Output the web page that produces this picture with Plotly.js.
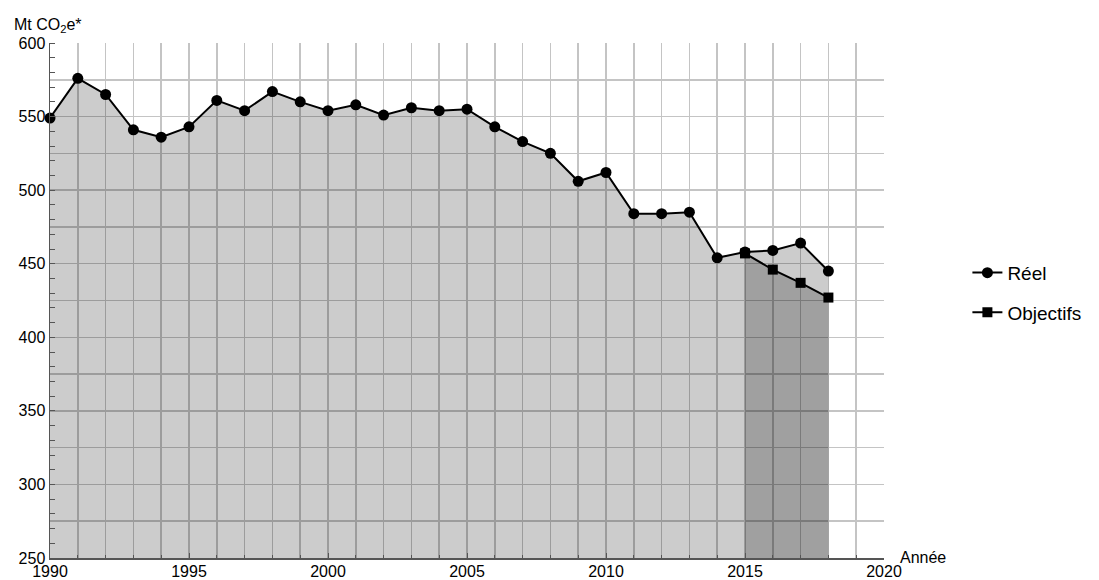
<!DOCTYPE html>
<html><head><meta charset="utf-8">
<script src="https://cdn.plot.ly/plotly-3.0.1.min.js"></script>
<style>html,body{margin:0;padding:0;background:#fff}</style>
</head><body><div id="chart" style="width:1099px;height:580px"></div>
<script>
const years = [1990,1991,1992,1993,1994,1995,1996,1997,1998,1999,2000,2001,2002,2003,2004,2005,2006,2007,2008,2009,2010,2011,2012,2013,2014,2015,2016,2017,2018];
const reel = [549,576,565,541,536,543,561,554,567,560,554,558,551,556,554,555,543,533,525,506,512,484,484,485,454,458,459,464,445];
const objYears = [2015,2016,2017,2018];
const objectifs = [457,446,437,427];
const yGridVals = [250,275,300,325,350,375,400,425,450,475,500,525,550,575,600];
const yTickText = ['250','','300','','350','','400','','450','','500','','550','','600'];
const xTickVals = [1990,1995,2000,2005,2010,2015,2020];
const seriesNames = ['Réel','Objectifs'];

const font = {family:'"Liberation Sans", Arial, sans-serif', size:16, color:'#000'};
const gridColor = '#c4c4c4';
const axisColor = '#555';

const traces = [
  {x: years, y: reel, type:'scatter', mode:'none', fill:'tozeroy', fillcolor:'rgba(0,0,0,0.2)', showlegend:false, hoverinfo:'skip'},
  {x: objYears, y: objectifs, type:'scatter', mode:'none', fill:'tozeroy', fillcolor:'rgba(0,0,0,0.215)', showlegend:false, hoverinfo:'skip'},
  {x: years, y: reel, name: seriesNames[0], type:'scatter', mode:'lines+markers', legendgroup:'a',
   line:{color:'#000', width:2}, marker:{symbol:'circle', size:11, color:'#000'}, cliponaxis:false},
  {x: objYears, y: objectifs, name: seriesNames[1], type:'scatter', mode:'lines+markers', legendgroup:'b',
   line:{color:'#000', width:2}, marker:{symbol:'square', size:10, color:'#000'}, cliponaxis:false}
];

const layout = {
  width:1099, height:580,
  margin:{l:50, r:215, t:43, b:22},
  paper_bgcolor:'#fff', plot_bgcolor:'#fff',
  font: font,
  showlegend:true,
  legend:{x:1.1, xanchor:'left', y:0.515, yanchor:'middle', font:{family:font.family, size:19, color:'#000'},
          tracegroupgap:12, bgcolor:'rgba(0,0,0,0)'},
  xaxis:{range:[1990,2020], tickmode:'array', tickvals:xTickVals, ticks:'inside', ticklen:5, tickcolor:axisColor,
         showgrid:true, gridcolor:gridColor, gridwidth:1.5, zeroline:false, ticklabelstandoff:-2,
         showline:true, linecolor:axisColor, linewidth:1.5, tickfont:font,
         minor:{tickmode:'linear', tick0:1990, dtick:1, ticks:'inside', ticklen:3, tickcolor:axisColor, showgrid:true, gridcolor:gridColor, gridwidth:1.5}},
  yaxis:{range:[250,600], tickmode:'array', tickvals:yGridVals, ticktext:yTickText, ticks:'',
         showgrid:true, gridcolor:gridColor, gridwidth:1.5, zeroline:false,
         showline:true, linecolor:axisColor, linewidth:1.5, tickfont:font,
         minor:{tickmode:'linear', tick0:250, dtick:10, ticks:'inside', ticklen:5, tickcolor:axisColor, showgrid:false}},
  annotations:[
    {xref:'paper', yref:'paper', x:-0.045, y:1.0, xanchor:'left', yanchor:'bottom', yshift:6,
     text:'Mt CO<sub>2</sub>e*', showarrow:false, font:font},
    {xref:'paper', yref:'paper', x:1.0, y:0, xanchor:'left', yanchor:'bottom', xshift:14, yshift:-10,
     text:'Année', showarrow:false, font:font}
  ]
};

Plotly.newPlot('chart', traces, layout, {displayModeBar:false, staticPlot:true});
</script></body></html>
